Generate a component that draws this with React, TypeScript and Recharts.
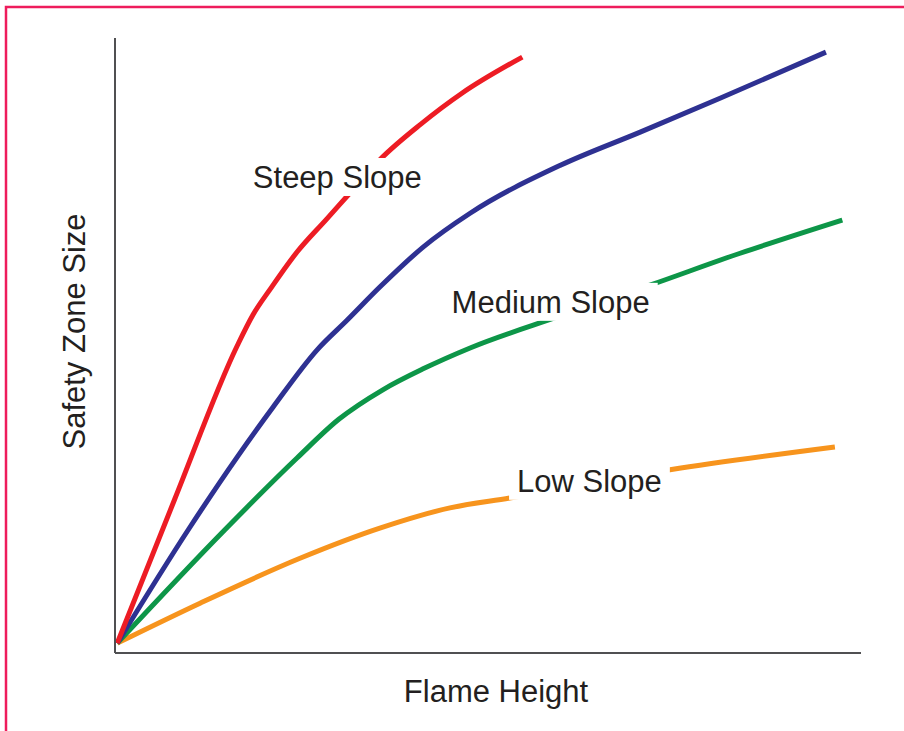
import React, { useLayoutEffect, useRef, useState } from "react";
import { LineChart, Line, XAxis, YAxis, ReferenceDot, Label, Customized } from "recharts";

// curves (x = flame height, y = safety zone size, both 0-100)
const steepSlope = [
  { x: 0.3, y: 1.6 },
  { x: 8.0, y: 25.0 },
  { x: 16.4, y: 50.0 },
  { x: 18.5, y: 55.0 },
  { x: 21.0, y: 59.5 },
  { x: 24.4, y: 65.2 },
  { x: 28.4, y: 70.6 },
  { x: 31.5, y: 74.8 },
  { x: 35.5, y: 80.2 },
  { x: 41.0, y: 86.0 },
  { x: 46.6, y: 91.1 },
  { x: 54.6, y: 96.9 },
];

const mediumSlope = [
  { x: 0.3, y: 1.6 },
  { x: 9.8, y: 20.0 },
  { x: 16.4, y: 31.9 },
  { x: 21.2, y: 40.0 },
  { x: 27.1, y: 49.3 },
  { x: 31.1, y: 54.1 },
  { x: 35.5, y: 59.5 },
  { x: 41.3, y: 66.0 },
  { x: 47.6, y: 71.5 },
  { x: 59.7, y: 79.3 },
  { x: 70.4, y: 84.7 },
  { x: 81.1, y: 90.2 },
  { x: 95.3, y: 97.7 },
];

const lowMediumSlope = [
  { x: 0.3, y: 1.6 },
  { x: 14.7, y: 20.0 },
  { x: 24.4, y: 31.7 },
  { x: 30.0, y: 38.0 },
  { x: 35.9, y: 42.8 },
  { x: 41.3, y: 46.2 },
  { x: 47.6, y: 49.6 },
  { x: 59.7, y: 54.8 },
  { x: 71.7, y: 59.8 },
  { x: 83.8, y: 65.0 },
  { x: 97.5, y: 70.4 },
];

const lowSlope = [
  { x: 0.3, y: 1.6 },
  { x: 11.4, y: 8.1 },
  { x: 24.8, y: 15.4 },
  { x: 35.5, y: 20.3 },
  { x: 44.9, y: 23.6 },
  { x: 52.9, y: 25.2 },
  { x: 74.4, y: 29.8 },
  { x: 96.5, y: 33.5 },
];

const annotations = [
  { text: "Steep Slope", x: 29.8, y: 77.4 },
  { text: "Medium Slope", x: 58.4, y: 57.1 },
  { text: "Low Slope", x: 63.6, y: 28.0 },
];

const FONT = "'Liberation Sans', Arial, Helvetica, sans-serif";
const TEXT_COLOR = "#231f20";
const AXIS_COLOR = "#505052";

// text with a white box behind it, so the curve is cut where the label sits
const BoxedLabel = ({ cx, cy, text }: { cx: number; cy: number; text: string }) => {
  const ref = useRef<SVGTextElement>(null);
  const [box, setBox] = useState<{ x: number; y: number; w: number; h: number } | null>(null);

  useLayoutEffect(() => {
    if (ref.current) {
      const b = ref.current.getBBox();
      setBox({ x: b.x, y: b.y, w: b.width, h: b.height });
    }
  }, [cx, cy, text]);

  return (
    <g>
      {box && (
        <rect
          x={box.x - 8}
          y={box.y - 2}
          width={box.w + 16}
          height={box.h + 3}
          fill="#ffffff"
        />
      )}
      <text
        ref={ref}
        x={cx}
        y={cy + 11}
        textAnchor="middle"
        fontSize={31}
        fontFamily={FONT}
        fill={TEXT_COLOR}
      >
        {text}
      </text>
    </g>
  );
};

// pink page frame, runs off the right and bottom edges
const Frame = () => (
  <path d="M 6 731 L 6 7 L 904 7" fill="none" stroke="#ee1c5c" strokeWidth={2.5} />
);

export default function App() {
  return (
    <div
      style={{
        position: "relative",
        width: 904,
        height: 731,
        overflow: "hidden",
        background: "#ffffff",
      }}
    >
      <style>{"html, body { margin: 0; padding: 0; background: #ffffff; }"}</style>
      <LineChart
        width={904}
        height={731}
        margin={{ top: 38, right: 43, bottom: 77, left: 114 }}
      >
        <Customized component={Frame} />
        <XAxis
          type="number"
          dataKey="x"
          domain={[0, 100]}
          allowDataOverflow
          height={1}
          tick={false}
          tickLine={false}
          stroke={AXIS_COLOR}
          strokeWidth={2}
        >
          <Label
            content={({ viewBox }: any) => (
              <text
                x={viewBox.x + viewBox.width / 2 + 8}
                y={viewBox.y + 49}
                textAnchor="middle"
                fontSize={31}
                fontFamily={FONT}
                fill={TEXT_COLOR}
              >
                Flame Height
              </text>
            )}
          />
        </XAxis>
        <YAxis
          type="number"
          dataKey="y"
          domain={[0, 100]}
          allowDataOverflow
          width={1}
          tick={false}
          tickLine={false}
          stroke={AXIS_COLOR}
          strokeWidth={2}
        >
          <Label
            content={({ viewBox }: any) => {
              const lx = viewBox.x + viewBox.width - 30;
              const ly = viewBox.y + viewBox.height / 2 - 14;
              return (
                <text
                  x={lx}
                  y={ly}
                  transform={`rotate(-90, ${lx}, ${ly})`}
                  textAnchor="middle"
                  fontSize={31}
                  fontFamily={FONT}
                  fill={TEXT_COLOR}
                >
                  Safety Zone Size
                </text>
              );
            }}
          />
        </YAxis>

        <Line data={lowSlope} dataKey="y" type="monotone" stroke="#f7941d" strokeWidth={5} dot={false} isAnimationActive={false} />
        <Line data={lowMediumSlope} dataKey="y" type="monotone" stroke="#0d9648" strokeWidth={5} dot={false} isAnimationActive={false} />
        <Line data={mediumSlope} dataKey="y" type="monotone" stroke="#2e3192" strokeWidth={5} dot={false} isAnimationActive={false} />
        <Line data={steepSlope} dataKey="y" type="monotone" stroke="#ed1c24" strokeWidth={5} dot={false} isAnimationActive={false} />

        {annotations.map((a) => (
          <ReferenceDot
            key={a.text}
            x={a.x}
            y={a.y}
            r={0}
            ifOverflow="visible"
            shape={(p: any) => <BoxedLabel cx={p.cx} cy={p.cy} text={a.text} />}
          />
        ))}
      </LineChart>
    </div>
  );
}
